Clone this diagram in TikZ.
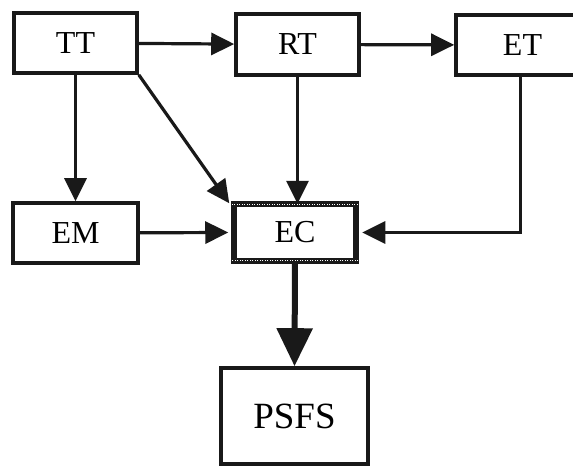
\documentclass[tikz,border=0pt]{standalone}
\usepackage{fontspec}
\setmainfont{Liberation Serif}
\usetikzlibrary{arrows.meta}
\begin{document}
\begin{tikzpicture}[x=1pt,y=-1pt,
  box/.style={draw=black!90, line width=3.6pt, fill=white, inner sep=0pt, font=\fontsize{32}{32}\selectfont},
  conn/.style={draw=black!90, line width=3.2pt, -{Triangle[length=23pt,width=22pt]}},
  bigconn/.style={draw=black!90, line width=6pt, -{Triangle[length=38pt,width=35pt]}}]
\useasboundingbox (0,0) rectangle (573,466);
\clip (0,0) rectangle (573,466);
\fill[white] (0,0) rectangle (573,466);
\node[box, minimum width=123pt, minimum height=60pt] (tt) at (75.5,43) {TT};
\node[box, minimum width=123pt, minimum height=61pt] (rt) at (297.5,44.5) {RT};
\node[box, minimum width=133pt, minimum height=60pt] (et) at (522.5,45) {ET};
\node[box, minimum width=125pt, minimum height=60pt] (em) at (75.5,233) {EM};
\node[box, line width=5.5pt, minimum width=122pt, minimum height=57pt] (ec) at (295,232.5) {EC};
\draw[white, line width=1pt, dash pattern=on 1pt off 1.5pt]
  ([shift={(-3pt,3pt)}]ec.south west) rectangle ([shift={(3pt,-3pt)}]ec.north east);
\node[box, font=\fontsize{37}{37}\selectfont, minimum width=147pt, minimum height=96pt] (psfs) at (294.5,416) {PSFS};
\draw[conn] (tt) -- (rt);
\draw[conn] (rt) -- (et);
\draw[conn] (tt.south) -- (em.north);
\draw[conn] (tt.south east) -- ([shift={(-2pt,-2pt)}]ec.north west);
\draw[conn] (rt.south) -- ([yshift=-2.5pt]rt.south |- ec.north);
\draw[conn] ([xshift=-2pt]et.south) |- ([xshift=3.5pt]ec.east);
\draw[conn] (em) -- ([xshift=-3pt]ec.west);
\draw[bigconn] ([yshift=2pt]ec.south) -- (psfs.north);
\end{tikzpicture}
\end{document}
